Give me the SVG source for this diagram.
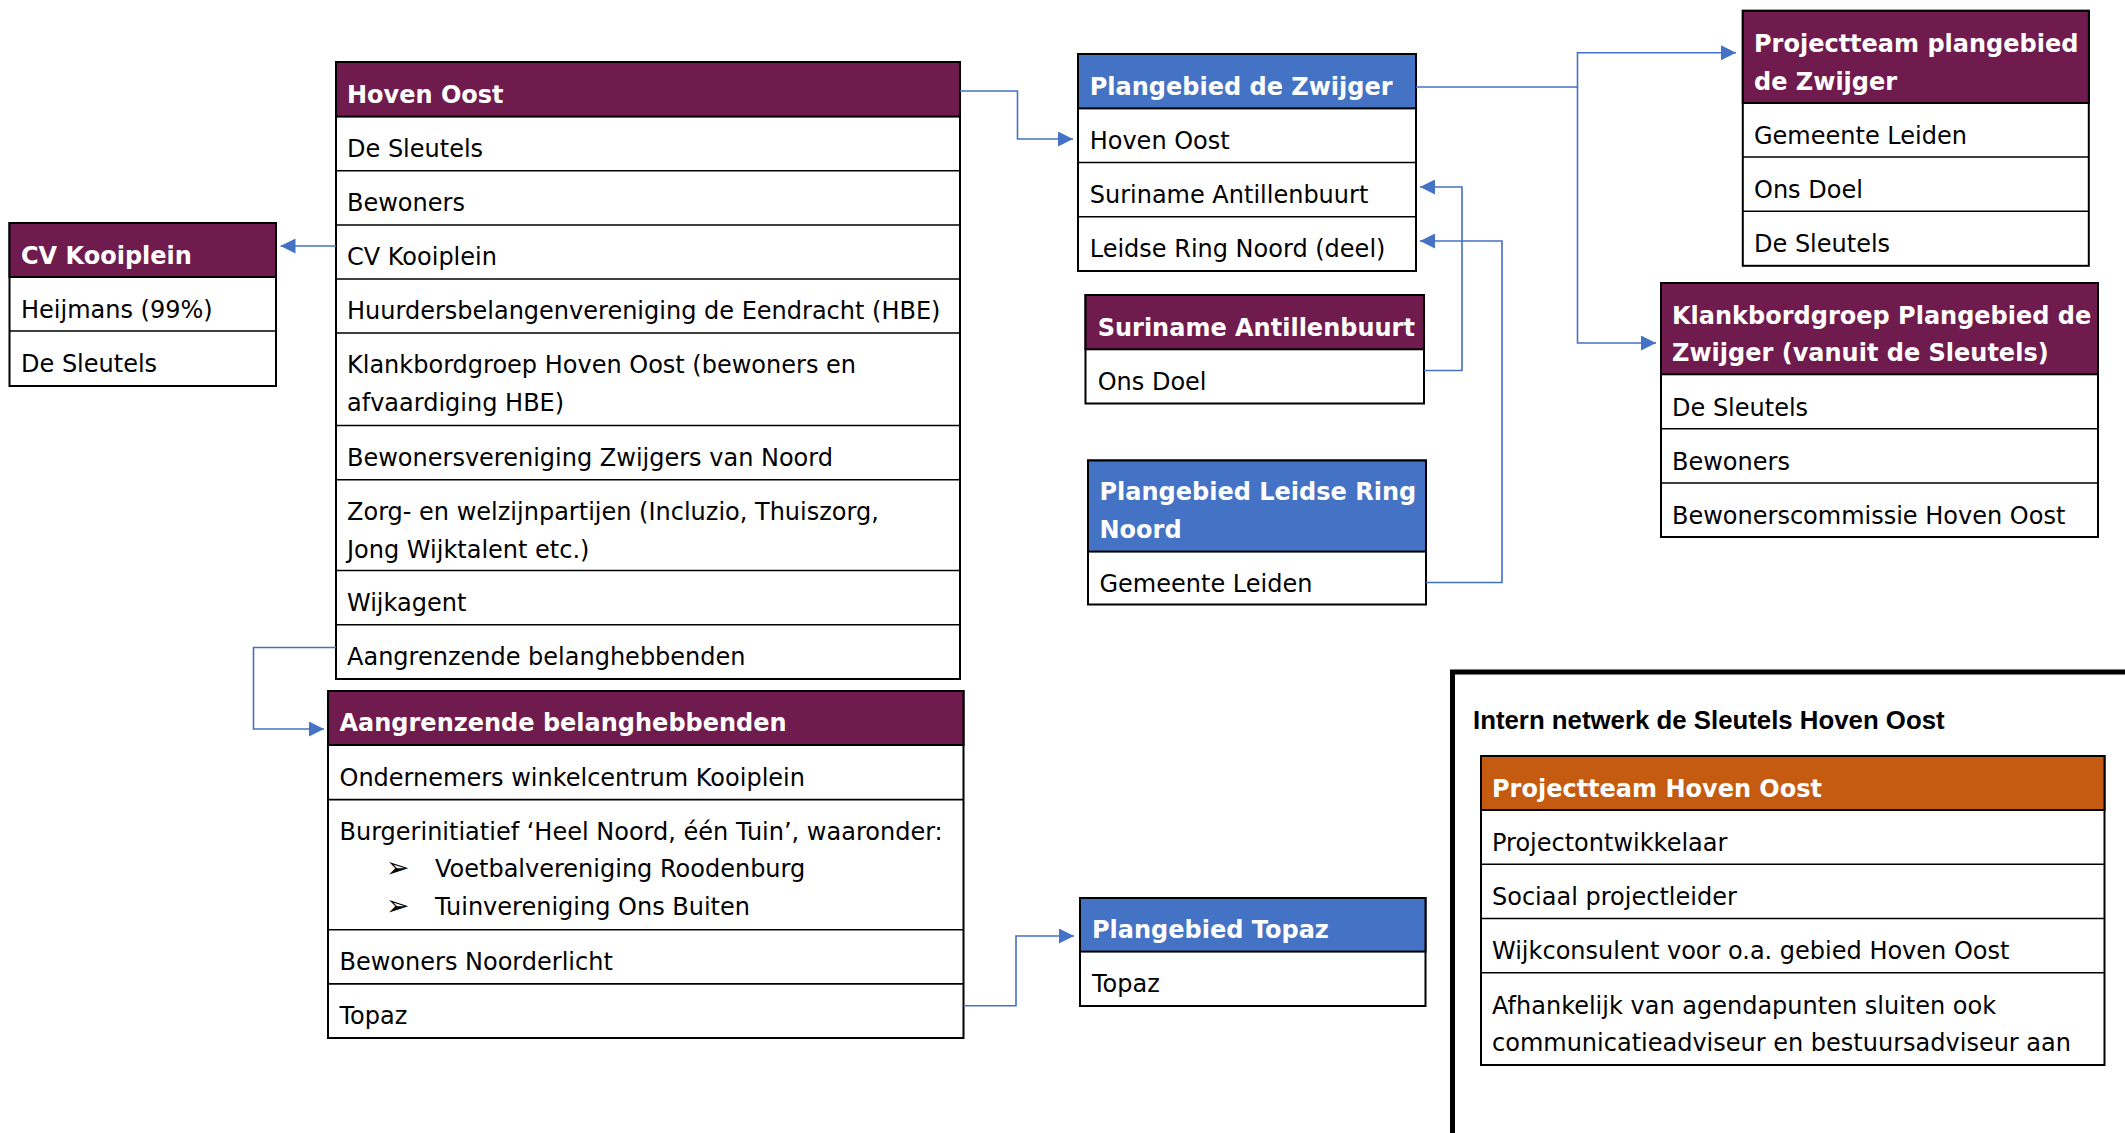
<svg xmlns="http://www.w3.org/2000/svg" width="2125" height="1133" viewBox="0 0 2125 1133">
<style>
.bg{fill:#fff}
.box{fill:#fff;stroke:#000;stroke-width:2}
.hp{fill:#701B4E;stroke:#000;stroke-width:2}
.hb{fill:#4472C4;stroke:#000;stroke-width:2}
.ho{fill:#C55A11;stroke:#000;stroke-width:2}
.sep{stroke:#000;stroke-width:1.6}
.t{font-family:"DejaVu Sans",Verdana,sans-serif;font-size:24px;fill:#000}
.th{font-family:"DejaVu Sans",Verdana,sans-serif;font-size:24px;font-weight:bold;fill:#fff}
.bul{font-family:"DejaVu Sans",sans-serif;font-size:28px;fill:#000}
.title{font-family:"Liberation Sans",Arial,sans-serif;font-size:25.8px;font-weight:bold;fill:#000}
.con{fill:none;stroke:#4472C4;stroke-width:1.6}
.panel{fill:none;stroke:#000;stroke-width:5}
</style>
<defs>
<marker id="arr" markerUnits="userSpaceOnUse" markerWidth="15" markerHeight="15" refX="15" refY="7.5" orient="auto">
<path d="M0,0 L15,7.5 L0,15 z" fill="#4472C4"/>
</marker>
</defs>
<rect class="bg" x="0" y="0" width="2125" height="1133"/>

<g id="hoven-oost">
<rect class="box" x="336" y="62" width="624" height="617"/>
<rect class="hp" x="336" y="62" width="624" height="54.6"/>
<line class="sep" x1="336" y1="170.8" x2="960" y2="170.8"/>
<line class="sep" x1="336" y1="225" x2="960" y2="225"/>
<line class="sep" x1="336" y1="279" x2="960" y2="279"/>
<line class="sep" x1="336" y1="333" x2="960" y2="333"/>
<line class="sep" x1="336" y1="425.5" x2="960" y2="425.5"/>
<line class="sep" x1="336" y1="479.7" x2="960" y2="479.7"/>
<line class="sep" x1="336" y1="570.5" x2="960" y2="570.5"/>
<line class="sep" x1="336" y1="624.8" x2="960" y2="624.8"/>
<text class="th" x="347" y="102.5">Hoven Oost</text>
<text class="t" x="347" y="157">De Sleutels</text>
<text class="t" x="347" y="211">Bewoners</text>
<text class="t" x="347" y="265">CV Kooiplein</text>
<text class="t" x="347" y="319">Huurdersbelangenvereniging de Eendracht (HBE)</text>
<text class="t" x="347" y="373">Klankbordgroep Hoven Oost (bewoners en</text>
<text class="t" x="347" y="411">afvaardiging HBE)</text>
<text class="t" x="347" y="466">Bewonersvereniging Zwijgers van Noord</text>
<text class="t" x="347" y="520">Zorg- en welzijnpartijen (Incluzio, Thuiszorg,</text>
<text class="t" x="347" y="558">Jong Wijktalent etc.)</text>
<text class="t" x="347" y="611">Wijkagent</text>
<text class="t" x="347" y="665">Aangrenzende belanghebbenden</text>
</g>

<g id="cv-kooiplein">
<rect class="box" x="9.5" y="223" width="266.5" height="163"/>
<rect class="hp" x="9.5" y="223" width="266.5" height="54"/>
<line class="sep" x1="9.5" y1="331" x2="276" y2="331"/>
<text class="th" x="21" y="263.5">CV Kooiplein</text>
<text class="t" x="21" y="317.5">Heijmans (99%)</text>
<text class="t" x="21" y="371.5">De Sleutels</text>
</g>

<g id="aangrenzende">
<rect class="box" x="328" y="691" width="635.5" height="347"/>
<rect class="hp" x="328" y="691" width="635.5" height="54"/>
<line class="sep" x1="328" y1="799.6" x2="963.5" y2="799.6"/>
<line class="sep" x1="328" y1="929.7" x2="963.5" y2="929.7"/>
<line class="sep" x1="328" y1="983.9" x2="963.5" y2="983.9"/>
<text class="th" x="339.5" y="731">Aangrenzende belanghebbenden</text>
<text class="t" x="339.5" y="785.5">Ondernemers winkelcentrum Kooiplein</text>
<text class="t" x="339.5" y="840">Burgerinitiatief ‘Heel Noord, één Tuin’, waaronder:</text>
<text class="bul" x="386" y="877">➢</text>
<text class="t" x="435" y="877">Voetbalvereniging Roodenburg</text>
<text class="bul" x="386" y="914.5">➢</text>
<text class="t" x="435" y="914.5">Tuinvereniging Ons Buiten</text>
<text class="t" x="339.5" y="970">Bewoners Noorderlicht</text>
<text class="t" x="339.5" y="1024">Topaz</text>
</g>

<g id="plangebied-zwijger">
<rect class="box" x="1078" y="54" width="338" height="217"/>
<rect class="hb" x="1078" y="54" width="338" height="54.4"/>
<line class="sep" x1="1078" y1="162.5" x2="1416" y2="162.5"/>
<line class="sep" x1="1078" y1="216.7" x2="1416" y2="216.7"/>
<text class="th" x="1089.7" y="94.5">Plangebied de Zwijger</text>
<text class="t" x="1089.7" y="148.5">Hoven Oost</text>
<text class="t" x="1089.7" y="202.5">Suriname Antillenbuurt</text>
<text class="t" x="1089.7" y="257">Leidse Ring Noord (deel)</text>
</g>

<g id="suriname">
<rect class="box" x="1085.5" y="295" width="338.5" height="108.5"/>
<rect class="hp" x="1085.5" y="295" width="338.5" height="54.3"/>
<text class="th" x="1097.7" y="335.5">Suriname Antillenbuurt</text>
<text class="t" x="1097.7" y="389.5">Ons Doel</text>
</g>

<g id="leidse-ring">
<rect class="box" x="1088" y="460.5" width="338" height="144"/>
<rect class="hb" x="1088" y="460.5" width="338" height="91.1"/>
<text class="th" x="1099.5" y="500">Plangebied Leidse Ring</text>
<text class="th" x="1099.5" y="538">Noord</text>
<text class="t" x="1099.5" y="591.5">Gemeente Leiden</text>
</g>

<g id="topaz">
<rect class="box" x="1080" y="898" width="345.5" height="108"/>
<rect class="hb" x="1080" y="898" width="345.5" height="53.6"/>
<text class="th" x="1092" y="937.5">Plangebied Topaz</text>
<text class="t" x="1092" y="992">Topaz</text>
</g>

<g id="projectteam-zwijger">
<rect class="box" x="1742.8" y="10.8" width="346" height="255"/>
<rect class="hp" x="1742.8" y="10.8" width="346" height="92.2"/>
<line class="sep" x1="1742.8" y1="157" x2="2088.8" y2="157"/>
<line class="sep" x1="1742.8" y1="211.3" x2="2088.8" y2="211.3"/>
<text class="th" x="1754" y="51.5">Projectteam plangebied</text>
<text class="th" x="1754" y="89.5">de Zwijger</text>
<text class="t" x="1754" y="143.5">Gemeente Leiden</text>
<text class="t" x="1754" y="197.5">Ons Doel</text>
<text class="t" x="1754" y="252">De Sleutels</text>
</g>

<g id="klankbordgroep">
<rect class="box" x="1661" y="283" width="437" height="254"/>
<rect class="hp" x="1661" y="283" width="437" height="91.3"/>
<line class="sep" x1="1661" y1="428.7" x2="2098" y2="428.7"/>
<line class="sep" x1="1661" y1="483" x2="2098" y2="483"/>
<text class="th" x="1672" y="323.5">Klankbordgroep Plangebied de</text>
<text class="th" x="1672" y="361">Zwijger (vanuit de Sleutels)</text>
<text class="t" x="1672" y="415.5">De Sleutels</text>
<text class="t" x="1672" y="469.5">Bewoners</text>
<text class="t" x="1672" y="523.5">Bewonerscommissie Hoven Oost</text>
</g>

<g id="intern-netwerk">
<path class="panel" d="M1452.5 1133 V672 H2125"/>
<text class="title" x="1473" y="729">Intern netwerk de Sleutels Hoven Oost</text>
</g>

<g id="projectteam-hoven-oost">
<rect class="box" x="1481" y="756" width="623.5" height="309"/>
<rect class="ho" x="1481" y="756" width="623.5" height="54"/>
<line class="sep" x1="1481" y1="864.3" x2="2104.5" y2="864.3"/>
<line class="sep" x1="1481" y1="918.5" x2="2104.5" y2="918.5"/>
<line class="sep" x1="1481" y1="972.7" x2="2104.5" y2="972.7"/>
<text class="th" x="1492" y="796.5">Projectteam Hoven Oost</text>
<text class="t" x="1492" y="850.5">Projectontwikkelaar</text>
<text class="t" x="1492" y="905">Sociaal projectleider</text>
<text class="t" x="1492" y="959">Wijkconsulent voor o.a. gebied Hoven Oost</text>
<text class="t" x="1492" y="1013.5">Afhankelijk van agendapunten sluiten ook</text>
<text class="t" x="1492" y="1051">communicatieadviseur en bestuursadviseur aan</text>
</g>

<g id="connectors">
<path class="con" d="M960 91 H1017.5 V139 H1073" marker-end="url(#arr)"/>
<path class="con" d="M336 246 H280.5" marker-end="url(#arr)"/>
<path class="con" d="M336 647.5 H253.5 V729 H324" marker-end="url(#arr)"/>
<path class="con" d="M1416 87 H1577.5 V52.8 H1736" marker-end="url(#arr)"/>
<path class="con" d="M1577.5 87 V343 H1656" marker-end="url(#arr)"/>
<path class="con" d="M1424 370.5 H1462 V187 H1420" marker-end="url(#arr)"/>
<path class="con" d="M1426 582.5 H1502 V241 H1420" marker-end="url(#arr)"/>
<path class="con" d="M963.5 1005.7 H1016 V936 H1074" marker-end="url(#arr)"/>
</g>
</svg>
